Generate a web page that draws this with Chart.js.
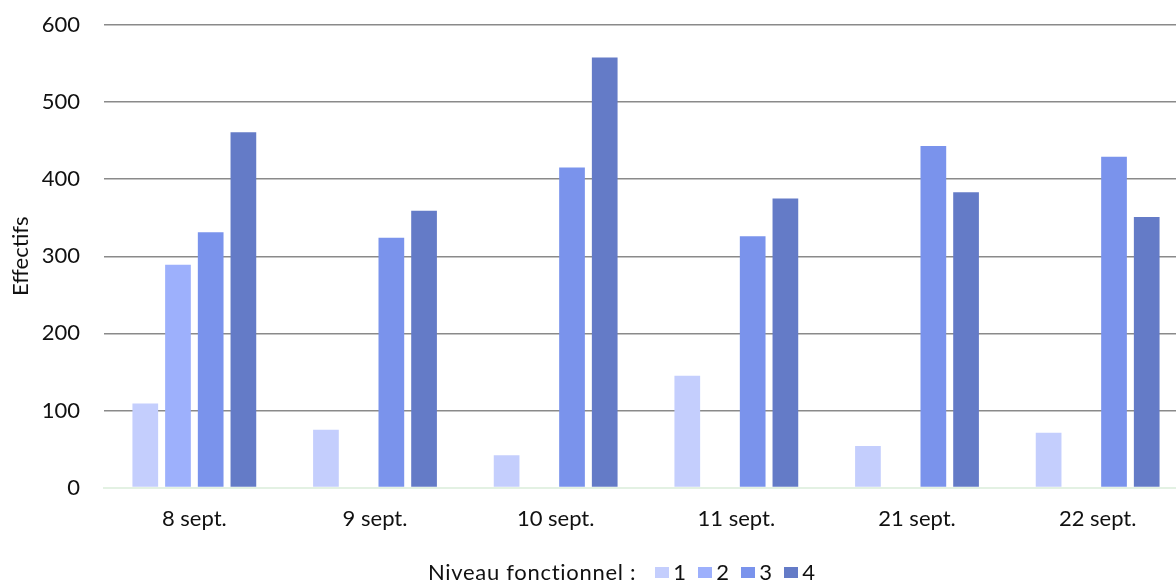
<!DOCTYPE html>
<html lang="fr">
<head>
<meta charset="utf-8">
<title>Effectifs par niveau fonctionnel</title>
<script src="https://cdn.jsdelivr.net/npm/chart.js@4/dist/chart.umd.min.js"></script>
<style>
  html, body { margin: 0; padding: 0; background: #ffffff; overflow: hidden; }
  #wrap { position: relative; width: 1176px; height: 581px; overflow: hidden; }
  #box { position: absolute; left: 0; top: 0; width: 1188px; height: 581px; }
  #legend {
    position: absolute; left: 428px; top: 558px; height: 26px;
    display: flex; align-items: center; white-space: nowrap;
    font-family: Lato, "Open Sans", sans-serif; font-size: 22px; color: #111;
  }
  #legend .cap { letter-spacing: 0.7px; margin-right: 19px; }
  #legend .sw { display: inline-block; width: 14px; height: 11px; margin: 2px 4px 0 0; }
  #legend .it { display: inline-flex; align-items: center; width: 43px; }
</style>
</head>
<body>
<div id="wrap">
  <div id="box"><canvas id="c"></canvas></div>
  <div id="legend"></div>
</div>
<script>
// Dates of the survey
const dates = ['8 sept.', '9 sept.', '10 sept.', '11 sept.', '21 sept.', '22 sept.'];

// Headcount per functional level (null = no value that day)
const niveau1 = [109, 75, 42, 145, 54, 71];
const niveau2 = [289, null, null, null, null, null];
const niveau3 = [331, 324, 415, 326, 443, 429];
const niveau4 = [461, 359, 558, 375, 383, 351];

const levelNames = ['1', '2', '3', '4'];
const levelColors = ['#c4cefd', '#9db0fc', '#7a93ec', '#647bc7'];

const yTicks = [0, 100, 200, 300, 400, 500, 600];

const font = { family: 'Lato, "Open Sans", sans-serif', size: 22 };

const series = [niveau1, niveau2, niveau3, niveau4];

new Chart(document.getElementById('c'), {
  type: 'bar',
  data: {
    labels: dates,
    datasets: series.map((vals, i) => ({
      label: levelNames[i],
      data: vals,
      backgroundColor: levelColors[i],
      borderWidth: 0,
      barPercentage: 0.786,
      categoryPercentage: 0.724
    }))
  },
  options: {
    responsive: true,
    maintainAspectRatio: false,
    animation: false,
    layout: { padding: { top: 25, right: 0, bottom: 0, left: 0 } },
    plugins: { legend: { display: false }, tooltip: { enabled: false } },
    scales: {
      x: {
        offset: true,
        grid: { display: false, drawTicks: false },
        border: { display: true, color: '#e3f1e3', width: 2 },
        ticks: { color: '#111', font, padding: 18 },
        afterFit: s => { s.height = 93.5; }
      },
      y: {
        min: 0, max: 600,
        afterBuildTicks: s => { s.ticks = yTicks.map(v => ({ value: v })); },
        grid: {
          drawTicks: true,
          tickLength: 24,
          tickColor: 'rgba(0,0,0,0)',
          color: ctx => ctx.tick && ctx.tick.value === 0 ? 'rgba(0,0,0,0)' : '#8a8a8a',
          lineWidth: 1.5
        },
        border: { display: false },
        ticks: { color: '#111', font, padding: 0 },
        title: {
          display: true, text: 'Effectifs', color: '#111', font,
          padding: { top: 8, bottom: 0 }
        },
        afterFit: s => { s.width = 104; }
      }
    }
  }
});

// Inline legend with its caption
const lg = document.getElementById('legend');
const cap = document.createElement('span');
cap.className = 'cap';
cap.textContent = 'Niveau fonctionnel :';
lg.appendChild(cap);
levelNames.forEach((n, i) => {
  const it = document.createElement('span');
  it.className = 'it';
  const sw = document.createElement('span');
  sw.className = 'sw';
  sw.style.background = levelColors[i];
  const t = document.createElement('span');
  t.textContent = n;
  it.appendChild(sw); it.appendChild(t);
  lg.appendChild(it);
});
</script>
</body>
</html>
